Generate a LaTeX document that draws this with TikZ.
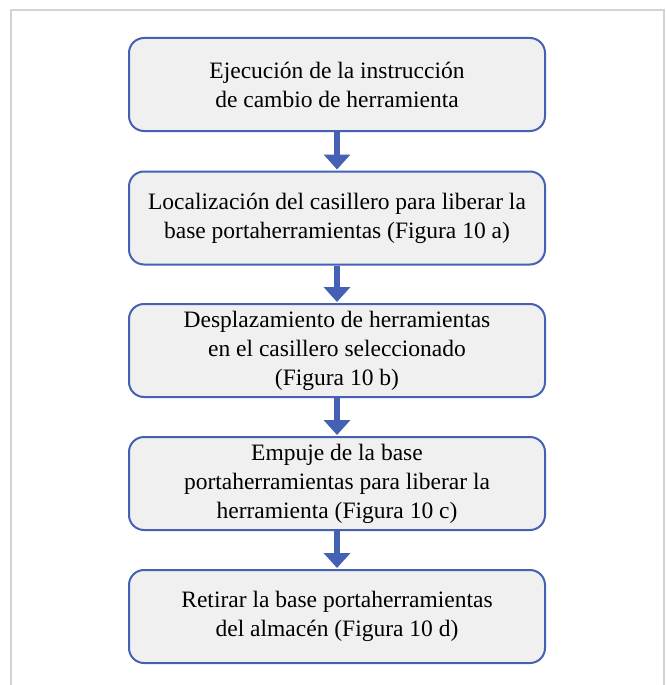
\documentclass[tikz,border=0pt]{standalone}
\usepackage{fontspec}
\setmainfont{Liberation Serif}
\usetikzlibrary{arrows.meta}
\definecolor{boxblue}{HTML}{4461B3}
\definecolor{boxfill}{HTML}{F0F0F0}
\definecolor{framegray}{HTML}{D3D3D3}
\tikzset{
  stepbox/.style={draw=boxblue, line width=2pt, fill=boxfill, rounded corners=15pt,
    minimum width=416pt, minimum height=93pt, align=center, inner sep=0pt,
    font=\fontsize{23.5}{29}\selectfont},
  flowarrow/.style={draw=boxblue, line width=5.5pt, -{Triangle[width=26pt,length=15pt]}, shorten >=1pt}
}
\begin{document}
\begin{tikzpicture}[x=1pt,y=-1pt]
\useasboundingbox (0,0) rectangle (666,685);
\draw[framegray, line width=1.5pt] (11,685) -- (11,10) -- (664,10) -- (664,685);
\node[stepbox] (b1) at (337,84.5) {Ejecución de la instrucción\\de cambio de herramienta};
\node[stepbox] (b2) at (337,218) {Localización del casillero para liberar la\\base portaherramientas (Figura 10 a)};
\node[stepbox] (b3) at (337,350.5) {Desplazamiento de herramientas\\en el casillero seleccionado\\(Figura 10 b)};
\node[stepbox] (b4) at (337,483.5) {Empuje de la base\\portaherramientas para liberar la\\herramienta (Figura 10 c)};
\node[stepbox] (b5) at (337,616.5) {Retirar la base portaherramientas\\del almacén (Figura 10 d)};
\draw[flowarrow] (b1.south) -- (b2.north);
\draw[flowarrow] (b2.south) -- (b3.north);
\draw[flowarrow] (b3.south) -- (b4.north);
\draw[flowarrow] (b4.south) -- (b5.north);
\end{tikzpicture}
\end{document}
